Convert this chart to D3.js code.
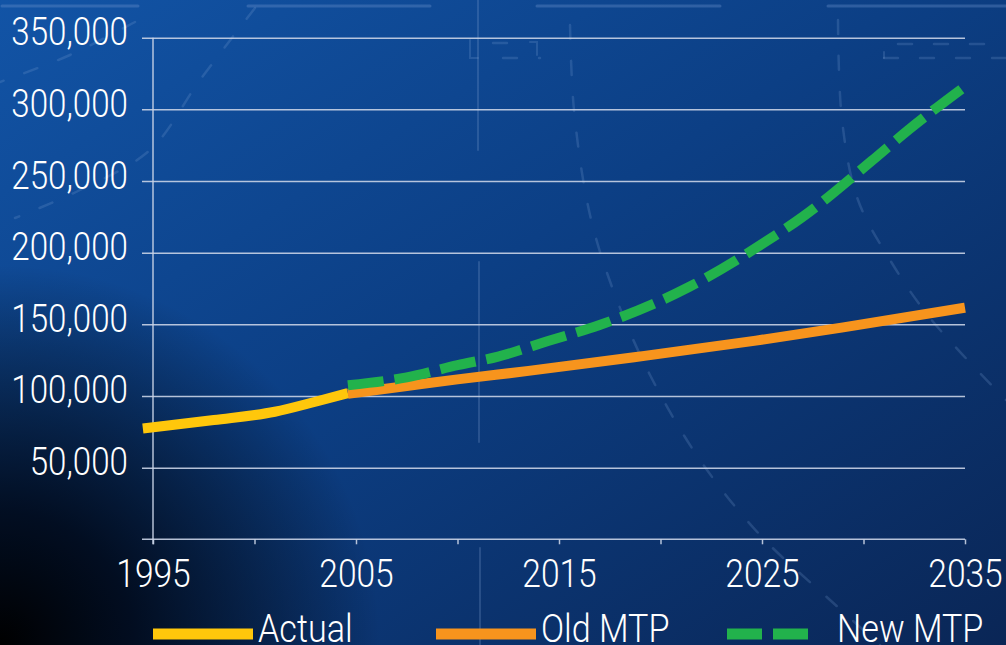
<!DOCTYPE html>
<html>
<head>
<meta charset="utf-8">
<script src="https://d3js.org/d3.v7.min.js"></script>
<style>
  html, body { margin: 0; padding: 0; background: #0a2f66; overflow: hidden; }
  svg { display: block; }
  text { font-family: Roboto, "Liberation Sans", sans-serif; font-weight: 300; fill: #ffffff; }
</style>
</head>
<body>
<svg id="chart" width="1006" height="645"></svg>
<script>
// ---------------- DATA ----------------
const yTickValues = [50000, 100000, 150000, 200000, 250000, 300000, 350000];
const xTickValues = [1995, 2000, 2005, 2010, 2015, 2020, 2025, 2030, 2035];
const xLabelYears = [1995, 2005, 2015, 2025, 2035];

const actualYears  = [1994.5, 1998, 2001, 2003, 2004.6];
const actualValues = [77300, 83200, 89000, 96000, 102000];

const oldYears  = [2004.6, 2007.5, 2010, 2013.5, 2018.7, 2024.7, 2029, 2035];
const oldValues = [101600, 107000, 111600, 117500, 127000, 138600, 147900, 161600];

const newYears  = [2004.6, 2007.5, 2010, 2012, 2014.5, 2017, 2021.4, 2025, 2027, 2030.4, 2032.2, 2035];
const newValues = [107500, 113000, 121500, 127500, 138500, 149500, 176000, 206000, 225000, 264000, 285500, 316000];

const seriesNames  = ["Actual", "Old MTP", "New MTP"];
const seriesColors = ["#ffc70b", "#f7941d", "#22b24c"];

// ---------------- SETUP ----------------
const W = 1006, H = 645;
const FONT_SIZE = 39;
const svg = d3.select("#chart");
const defs = svg.append("defs");

function condense(factor) {
  return sel => sel.each(function () {
    const w = this.getComputedTextLength();
    d3.select(this).attr("textLength", w * factor).attr("lengthAdjust", "spacingAndGlyphs");
  });
}

const lg = defs.append("linearGradient").attr("id", "bg").attr("x1", "0").attr("y1", "0").attr("x2", "1").attr("y2", "1");
lg.append("stop").attr("offset", "0").attr("stop-color", "#1254a6");
lg.append("stop").attr("offset", "0.45").attr("stop-color", "#0c3f85");
lg.append("stop").attr("offset", "1").attr("stop-color", "#0a2656");

const rg = defs.append("radialGradient").attr("id", "vig")
  .attr("gradientUnits", "userSpaceOnUse").attr("cx", 0).attr("cy", 645).attr("r", 380);
rg.append("stop").attr("offset", "0").attr("stop-color", "#000000").attr("stop-opacity", 1);
rg.append("stop").attr("offset", "0.35").attr("stop-color", "#000510").attr("stop-opacity", 0.85);
rg.append("stop").attr("offset", "1").attr("stop-color", "#000000").attr("stop-opacity", 0);

svg.append("rect").attr("width", W).attr("height", H).attr("fill", "url(#bg)");
svg.append("rect").attr("width", W).attr("height", H).attr("fill", "url(#vig)");

// decorative blueprint strokes (background ornament)
const deco = svg.append("g").attr("fill", "none").attr("stroke-linecap", "round");
const decoLine = d3.line().curve(d3.curveCatmullRom);
const solidDeco = [
  [[2, 6], [138, 6]], [[248, 6], [430, 6]], [[537, 6], [720, 6]], [[828, 6], [1006, 6]]
];
solidDeco.forEach(p => deco.append("path").attr("d", decoLine(p))
  .attr("stroke", "#6f96cf").attr("stroke-opacity", 0.35).attr("stroke-width", 3));
const vertDeco = [[[478, 0], [478, 150]], [[479, 262], [479, 442]], [[480, 548], [480, 645]]];
vertDeco.forEach(p => deco.append("path").attr("d", decoLine(p))
  .attr("stroke", "#7f9fcf").attr("stroke-opacity", 0.25).attr("stroke-width", 2));
const dashDeco = [
  [[255, 8], [200, 80], [150, 150], [80, 190], [15, 218]],
  [[135, 22], [70, 55], [0, 82]],
  [[570, 25], [574, 110], [590, 215], [615, 295], [650, 375], [700, 460], [760, 535], [830, 600], [880, 645]],
  [[838, 20], [842, 120], [858, 200], [890, 260], [930, 318], [1006, 400]],
  [[898, 44], [1006, 44]],
  [[884, 58], [1006, 58]],
  [[493, 43], [520, 43]], [[503, 58], [540, 58]]
];
dashDeco.forEach(p => deco.append("path").attr("d", decoLine(p))
  .attr("stroke", "#7fa3d8").attr("stroke-opacity", 0.22).attr("stroke-width", 2.5)
  .attr("stroke-dasharray", "14 22"));
const bracketDeco = [[[470, 40], [470, 58], [478, 58]], [[530, 42], [537, 42], [537, 55]], [[884, 52], [884, 58]]];
bracketDeco.forEach(p => deco.append("path").attr("d", d3.line()(p))
  .attr("stroke", "#7fa3d8").attr("stroke-opacity", 0.22).attr("stroke-width", 2));

// scales
const x = d3.scaleLinear().domain([1995, 2035]).range([153, 965]);
const y = d3.scaleLinear().domain([0, 350000]).range([539.3, 37.7]);

const gridColor = "#c9d3e6";

// y grid + labels
const yAxis = d3.axisLeft(y).tickValues(yTickValues)
  .tickSize(965 - 142).tickPadding(14)
  .tickFormat(d3.format(","));
const gy = svg.append("g").attr("transform", "translate(965,0)").call(yAxis);
gy.select(".domain").remove();
gy.selectAll(".tick line").attr("stroke", gridColor).attr("stroke-width", 1.5).attr("stroke-opacity", 0.9);
gy.selectAll(".tick text").attr("font-size", FONT_SIZE).attr("dy", 7).attr("fill", "#ffffff")
  .attr("font-family", null).call(condense(0.85));

// y axis line
svg.append("line").attr("x1", x(1995)).attr("x2", x(1995)).attr("y1", y(350000)).attr("y2", y(0) + 5)
  .attr("stroke", gridColor).attr("stroke-width", 1.5).attr("stroke-opacity", 0.9);

// x axis
const xAxis = d3.axisBottom(x).tickValues(xTickValues).tickSize(5).tickSizeOuter(0)
  .tickFormat(d => xLabelYears.includes(d) ? String(d) : "");
const gx = svg.append("g").attr("transform", `translate(0,${y(0)})`).call(xAxis);
gx.select(".domain").remove();
gx.selectAll(".tick line").attr("stroke", gridColor).attr("stroke-width", 1.5).attr("stroke-opacity", 0.9);
gx.selectAll(".tick text").attr("font-size", FONT_SIZE).attr("y", 48).attr("dy", null).attr("fill", "#ffffff")
  .attr("font-family", null)
  .filter(function () { return this.textContent !== ""; }).call(condense(0.86));
svg.append("line").attr("x1", 142).attr("x2", x(2035)).attr("y1", y(0)).attr("y2", y(0))
  .attr("stroke", gridColor).attr("stroke-width", 1.5).attr("stroke-opacity", 0.9);

// series lines
const line = d3.line().x(d => x(d[0])).y(d => y(d[1])).curve(d3.curveMonotoneX);
const toPts = (ys, vs) => ys.map((yr, i) => [yr, vs[i]]);
const series = [
  { pts: toPts(actualYears, actualValues), dash: null },
  { pts: toPts(oldYears, oldValues), dash: null },
  { pts: toPts(newYears, newValues), dash: "36 11" }
];
series.forEach((s, i) => {
  svg.append("path").attr("d", line(s.pts)).attr("fill", "none")
    .attr("stroke", seriesColors[i]).attr("stroke-width", 10)
    .attr("stroke-linejoin", "round").attr("stroke-linecap", "butt")
    .attr("stroke-dasharray", s.dash);
});

// legend
const legendX = [153, 436, 727];
const legendY = 634;
const lgd = svg.append("g");
seriesNames.forEach((name, i) => {
  const g = lgd.append("g").attr("transform", `translate(${legendX[i]},${legendY})`);
  g.append("line").attr("x1", 0).attr("x2", i === 2 ? 82 : 100).attr("y1", 0).attr("y2", 0)
    .attr("stroke", seriesColors[i]).attr("stroke-width", 11)
    .attr("stroke-dasharray", i === 2 ? "35 11" : null);
  g.append("text").attr("x", i === 2 ? 110 : 105).attr("y", 8).attr("font-size", FONT_SIZE).text(name)
    .call(condense(0.875));
});
</script>
</body>
</html>
